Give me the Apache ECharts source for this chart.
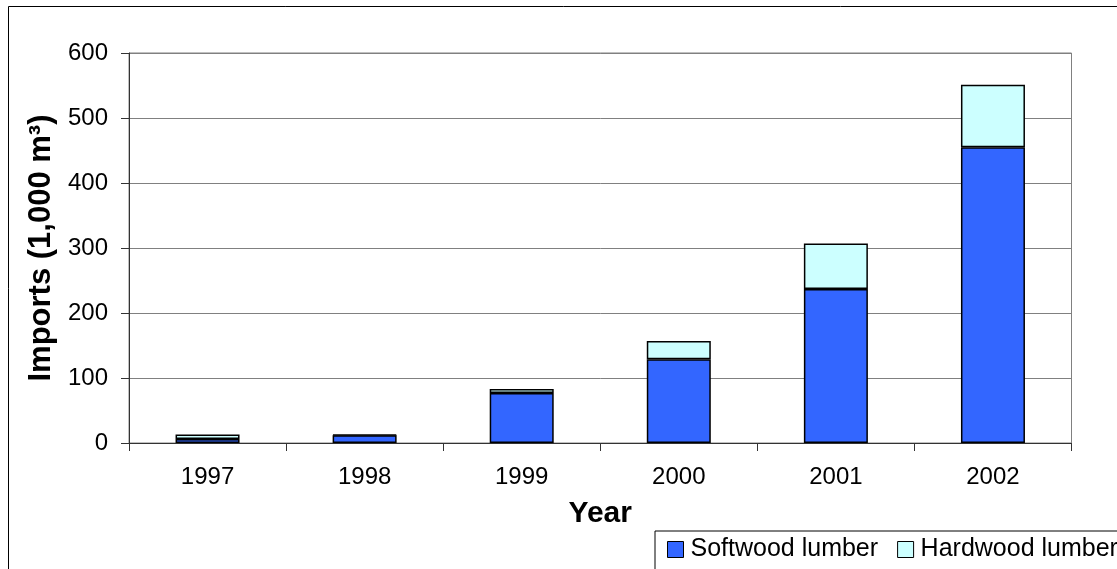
<!DOCTYPE html>
<html>
<head>
<meta charset="utf-8">
<script src="https://cdn.jsdelivr.net/npm/echarts@6/dist/echarts.min.js"></script>
<style>
html,body{margin:0;padding:0;background:#fff;}
#chart{width:1117px;height:569px;}
</style>
</head>
<body>
<div id="chart"></div>
<script>
const years = ['1997', '1998', '1999', '2000', '2001', '2002'];
const softwood = [6, 12, 77, 129, 237, 455];
const hardwood = [7, 1, 6, 28, 70, 96];
const seriesNames = ['Softwood lumber', 'Hardwood lumber'];
const yTicks = { min: 0, max: 600, interval: 100 };

const FONT = 'Arial, "Liberation Sans", sans-serif';
const chart = echarts.init(document.getElementById('chart'), null, { renderer: 'canvas' });

chart.setOption({
  animation: false,
  backgroundColor: '#fff',
  textStyle: { fontFamily: FONT },
  graphic: [{
    type: 'rect', z: -10, silent: true,
    shape: { x: 8.5, y: 6.5, width: 1200, height: 700 },
    style: { fill: 'none', stroke: '#000', lineWidth: 1 }
  }],
  grid: {
    left: 129, right: 45.5, top: 53, bottom: 126,
    show: true, borderColor: '#808080', borderWidth: 1, backgroundColor: 'transparent'
  },
  legend: {
    data: seriesNames,
    left: 655, top: 531, width: 700,
    orient: 'horizontal',
    padding: [6, 12, 30, 12],
    backgroundColor: '#fff', borderColor: '#000', borderWidth: 1,
    itemWidth: 16, itemHeight: 16, itemGap: 19,
    icon: 'rect',
    itemStyle: { borderColor: '#000', borderWidth: 1 },
    textStyle: { fontSize: 25, color: '#000', fontFamily: FONT, padding: [0, 0, 0, 2] }
  },
  xAxis: {
    type: 'category',
    data: years,
    boundaryGap: true,
    name: 'Year',
    nameLocation: 'middle',
    nameGap: 56,
    nameTextStyle: { fontSize: 30, fontWeight: 'bold', color: '#000', fontFamily: FONT },
    axisLine: { lineStyle: { color: '#333', width: 1 } },
    axisTick: { show: true, inside: false, length: 8, interval: 0, lineStyle: { color: '#333' } },
    axisLabel: { fontSize: 24, color: '#000', margin: 22, interval: 0, fontFamily: FONT },
    splitLine: { show: false }
  },
  yAxis: {
    type: 'value',
    min: yTicks.min, max: yTicks.max, interval: yTicks.interval,
    name: 'Imports (1,000 m³)',
    nameLocation: 'middle',
    nameGap: 70,
    nameTextStyle: { fontSize: 31, fontWeight: 'bold', color: '#000', fontFamily: FONT },
    axisLine: { show: true, lineStyle: { color: '#333', width: 1 } },
    axisTick: { show: true, inside: false, length: 8, lineStyle: { color: '#333' } },
    axisLabel: { fontSize: 24, color: '#000', margin: 21, fontFamily: FONT },
    splitLine: { show: true, lineStyle: { color: '#808080', width: 1 } }
  },
  series: [
    {
      name: seriesNames[0], type: 'bar', stack: 'total', data: softwood,
      barWidth: 64,
      itemStyle: { color: '#3366FF', borderColor: '#000', borderWidth: 1.5 }
    },
    {
      name: seriesNames[1], type: 'bar', stack: 'total', data: hardwood,
      barWidth: 64,
      itemStyle: { color: '#CCFFFF', borderColor: '#000', borderWidth: 1.5 }
    }
  ]
});
</script>
</body>
</html>
